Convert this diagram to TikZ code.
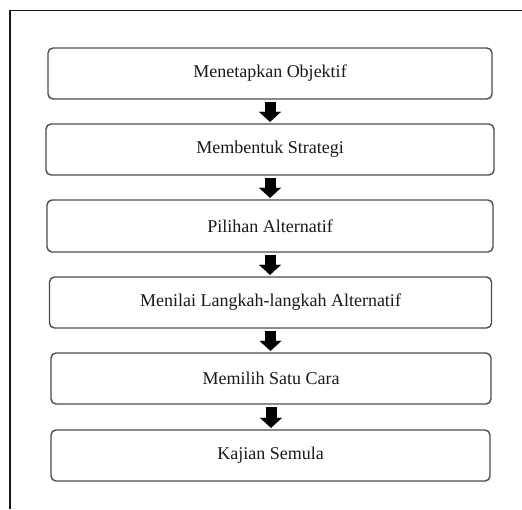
\documentclass[tikz,border=0pt]{standalone}
\usepackage{fontspec}
\setmainfont{Liberation Serif}
\usetikzlibrary{arrows.meta}
\begin{document}
\begin{tikzpicture}[x=1pt,y=-1pt,
  stepbox/.style={draw=black!70, line width=1.4pt, rounded corners=5pt, fill=white,
    inner sep=0pt, font=\fontsize{18}{20}\selectfont, text=black!90},
  blockarrow/.style={line width=11pt, black,
    -{Triangle[width=22pt,length=10pt,line width=0.01pt]},
    shorten <=2pt, shorten >=1.5pt},
  frameline/.style={line width=1.5pt, black!90}]
\useasboundingbox (0,0) rectangle (522,509);
\fill[white] (0,0) rectangle (522,509);
\coordinate (fb) at (10,509);
\coordinate (fc) at (10,10.5);
\coordinate (fr) at (522,10.5);
\draw[frameline] (fb) -- (fc) -- (fr);
\node[stepbox, minimum width=444pt, minimum height=51pt] (b1) at (270,73.5) {Menetapkan Objektif};
\node[stepbox, minimum width=448pt, minimum height=51pt] (b2) at (270,149.5) {Membentuk Strategi};
\node[stepbox, minimum width=446pt, minimum height=52pt] (b3) at (270,226) {Pilihan Alternatif};
\node[stepbox, minimum width=442pt, minimum height=51pt] (b4) at (270.5,302.5) {Menilai Langkah-langkah Alternatif};
\node[stepbox, minimum width=440pt, minimum height=51pt] (b5) at (271,378.5) {Memilih Satu Cara};
\node[stepbox, minimum width=439pt, minimum height=51pt] (b6) at (270.5,455.5) {Kajian Semula};
\draw[blockarrow] (b1.south) -- (b1.south |- b2.north);
\draw[blockarrow] (b2.south) -- (b2.south |- b3.north);
\draw[blockarrow] (b3.south) -- (b3.south |- b4.north);
\draw[blockarrow] (b4.south) -- (b4.south |- b5.north);
\draw[blockarrow] (b5.south) -- (b5.south |- b6.north);
\end{tikzpicture}
\end{document}
